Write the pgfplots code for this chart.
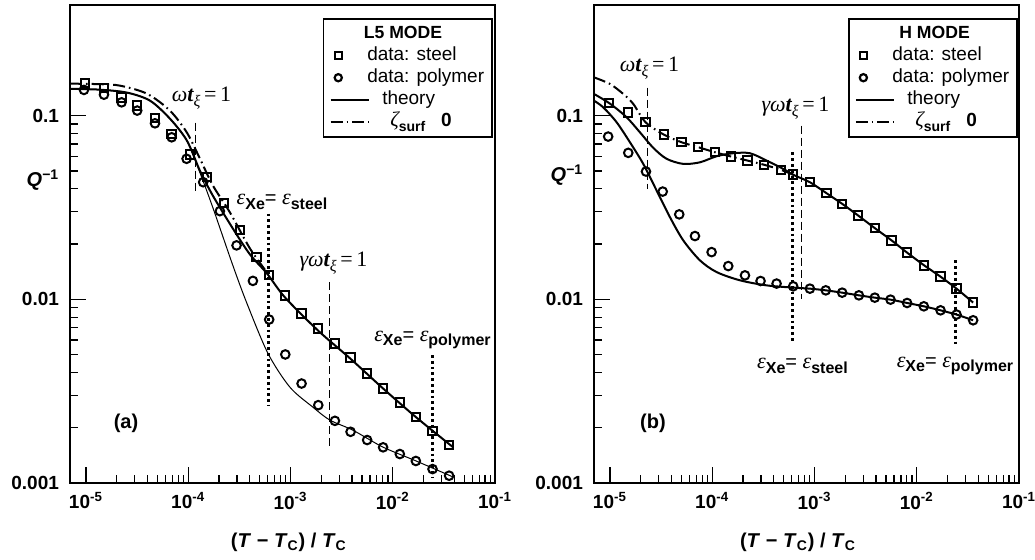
\documentclass[border=0pt]{standalone}
\usepackage{fontspec}
\setmainfont{Liberation Sans}
\newfontfamily\tnr{Liberation Serif}
\usepackage{pgfplots}
\pgfplotsset{compat=1.18}

\newcommand{\sub}[1]{\raisebox{-0.45ex}{\bfseries\fontsize{8}{9}\selectfont #1}}
\newcommand{\eps}{{\tnr\itshape\fontsize{11}{12}\selectfont ε}}
\newcommand{\epsXe}[1]{\eps\sub{Xe}= \eps\sub{#1}}
\newcommand{\wt}{{\tnr\fontsize{11}{12}\selectfont\itshape ω\textbf{t}\raisebox{-0.5ex}{\fontsize{8}{9}\selectfont ξ}\upshape\,=\,1}}
\newcommand{\gwt}{{\tnr\fontsize{11}{12}\selectfont\itshape γω\textbf{t}\raisebox{-0.5ex}{\fontsize{8}{9}\selectfont ξ}\upshape\,=\,1}}
\newcommand{\zsurf}{{\tnr\itshape\fontsize{10.5}{12}\selectfont ζ}\raisebox{-0.45ex}{\bfseries\fontsize{7}{8}\selectfont surf}\hspace{8pt}\textbf{0}}

\tikzset{
  sq/.style={only marks, mark=square, mark size=2.1pt, mark options={solid, line width=1pt}},
  ci/.style={only marks, mark=o, mark size=2.15pt, mark options={solid, line width=1pt}},
  dd/.style={line width=1pt, dash pattern=on 6pt off 2pt on 0.8pt off 2pt},
  vdash/.style={line width=0.55pt, dash pattern=on 4pt off 2pt},
  vdot/.style={line width=1.6pt, dash pattern=on 1.4pt off 1.5pt},
}

\begin{document}
\begin{tikzpicture}
\useasboundingbox (0,0) rectangle (517.5pt,279.5pt);

% ---------------- panel (a) ----------------
\begin{axis}[at={(35pt,38pt)}, anchor=south west,
    xmode=log, ymode=log,
    scale only axis, width=212.5pt, height=239pt,
    xmin=6.98e-6, xmax=0.1, ymin=0.001, ymax=0.4,
    axis line style={line width=1pt},
    tick pos=left, tick align=inside,
    major tick length=8pt, minor tick length=4pt,
    tick style={line width=0.6pt, black},
    xtick={1e-5,1e-4,1e-3,1e-2,1e-1},
    xticklabels={10\textsuperscript{-5},10\textsuperscript{-4},10\textsuperscript{-3},10\textsuperscript{-2},10\textsuperscript{-1}},
    ytick={0.001,0.01,0.1},
    yticklabels={0.001,0.01,0.1},
    ticklabel style={font=\fontsize{9.5}{11}\selectfont\bfseries},
    yticklabel style={xshift=-2pt},
    xticklabel style={yshift=-1pt},
    xlabel={(\textit{T} − \textit{T}\textsubscript{C}) / \textit{T}\textsubscript{C}},
    ylabel={\textit{Q}\textsuperscript{−1}},
    xlabel style={at={(axis description cs:0.515,0)}, anchor=center, yshift=-29.5pt, font=\fontsize{10}{12}\selectfont\bfseries},
    ylabel style={at={(axis description cs:-0.0635,0.634)}, anchor=center, rotate=-90, font=\fontsize{10}{12}\selectfont\bfseries},
    clip=false,
    legend cell align=left,
    legend style={at={(0.595,0.973)}, anchor=north west, draw=black, line width=0.8pt,
      inner xsep=3pt, inner ysep=2pt, column sep=0pt, row sep=0pt,
      font=\fontsize{9.5}{10}\selectfont,
      nodes={inner sep=1pt, text height=7pt, text depth=2pt}},
  ]
\addlegendimage{empty legend}
\addlegendentry{\hspace*{-4.2pt}\bfseries\fontsize{8.8}{10}\selectfont L5 MODE}
\addlegendimage{legend image code/.code={\path[draw=none,fill=none] (0pt,-3pt) rectangle (19.3pt,3pt);
     \draw[line width=1.1pt] (2.0pt,-1.8pt) rectangle (5.6pt,1.8pt);}}
\addlegendentry{\hspace*{-2.5pt}data: steel}
\addlegendimage{legend image code/.code={\path[draw=none,fill=none] (0pt,-3pt) rectangle (19.3pt,3pt);
     \draw[line width=1.1pt] (3.8pt,0pt) circle (1.8pt);}}
\addlegendentry{\hspace*{-2.5pt}data: polymer}
\addlegendimage{legend image code/.code={\draw[line width=1pt] (0pt,0pt) -- (19.3pt,0pt);}}
\addlegendentry{\hspace*{5pt}theory}
\addlegendimage{legend image code/.code={\draw[dd] (0pt,0pt) -- (19.3pt,0pt);}}
\addlegendentry{\hspace*{9pt}\zsurf}

% theory polymer (thin)
\addplot[forget plot, line width=0.5pt, smooth] coordinates {
(6.98e-6,0.140)(1.371e-5,0.1384)(2.52e-5,0.1334)(4.23e-5,0.1206)(6.62e-5,0.0963)(9.71e-5,0.0731)
(1.30e-4,0.0490)(1.74e-4,0.0316)(2.73e-4,0.01531)(3.75e-4,0.00951)(6.01e-4,0.00509)(9.86e-4,0.003327)
(1.656e-3,0.002588)(2.43e-3,0.0022)(4.07e-3,0.00194)(8.0e-3,0.00157)(0.01683,0.00132)(0.0387,0.00108)};
% theory steel
\addplot[forget plot, line width=1pt, smooth] coordinates {
(6.98e-6,0.140)(1.371e-5,0.1384)(2.52e-5,0.1334)(4.23e-5,0.1206)(6.62e-5,0.0963)(9.71e-5,0.0731)
(1.30e-4,0.0502)(1.74e-4,0.0367)(2.73e-4,0.0243)(4.01e-4,0.01757)(5.88e-4,0.01384)(8.81e-4,0.01026)
(1.85e-3,0.00678)(3.81e-3,0.00478)(8.0e-3,0.00328)(0.01683,0.002286)(0.0387,0.00157)};
% zeta -> 0
\addplot[forget plot, dd, smooth] coordinates {
(6.98e-6,0.1493)(1.371e-5,0.1483)(2.15e-5,0.1456)(3.94e-5,0.1317)(6.62e-5,0.1065)(9.71e-5,0.0808)
(1.30e-4,0.0584)(1.74e-4,0.0417)(2.56e-4,0.0297)(4.01e-4,0.01893)(5.88e-4,0.01403)};
% data steel
\addplot[forget plot, sq] coordinates {
(9.78e-6,0.150)(1.50e-5,0.1415)(2.23e-5,0.1257)(3.17e-5,0.1133)(4.73e-5,0.0972)(6.89e-5,0.0795)
(1.04e-4,0.0614)(1.53e-4,0.0463)(2.23e-4,0.0335)(3.20e-4,0.0239)(4.67e-4,0.0170)(6.19e-4,0.01358)
(8.81e-4,0.01051)(1.284e-3,0.00836)(1.87e-3,0.00693)(2.72e-3,0.00574)(3.87e-3,0.00482)(5.62e-3,0.00394)
(8.05e-3,0.00327)(0.01173,0.00275)(0.01683,0.00229)(0.0245,0.00192)(0.0356,0.00161)};
% data polymer
\addplot[forget plot, ci] coordinates {
(9.56e-6,0.138)(1.50e-5,0.130)(2.23e-5,0.1181)(3.17e-5,0.1065)(4.73e-5,0.0908)(6.89e-5,0.0762)
(9.64e-5,0.0582)(1.40e-4,0.0434)(2.04e-4,0.0302)(2.97e-4,0.01966)(4.29e-4,0.0126)(6.19e-4,0.00776)
(8.9e-4,0.00501)(1.284e-3,0.00348)(1.87e-3,0.002654)(2.72e-3,0.00218)(3.87e-3,0.00190)(5.62e-3,0.001714)
(8.05e-3,0.001564)(0.01173,0.001438)(0.01683,0.001318)(0.0245,0.001191)(0.0356,0.001096)};
% reference lines
\addplot[forget plot, vdash] coordinates {(1.19e-4,0.0916)(1.19e-4,0.0382)};
\addplot[forget plot, vdot] coordinates {(6.15e-4,0.0293)(6.15e-4,0.00265)};
\addplot[forget plot, vdash] coordinates {(2.43e-3,0.01236)(2.43e-3,0.00157)};
\addplot[forget plot, vdot] coordinates {(0.0247,0.00497)(0.0247,0.00106)};

\node at (rel axis cs:0.3094,0.8054) {\wt};
\node at (rel axis cs:0.4988,0.5879) {\epsXe{steel}};
\node at (rel axis cs:0.62,0.4603) {\gwt};
\node at (rel axis cs:0.8529,0.2992) {\epsXe{polymer}};
\node at (rel axis cs:0.1318,0.1255) {\textbf{(a)}};
\end{axis}

% ---------------- panel (b) ----------------
\begin{axis}[at={(297pt,38pt)}, anchor=south west,
    xmode=log, ymode=log,
    scale only axis, width=212.5pt, height=239pt,
    xmin=6.98e-6, xmax=0.1, ymin=0.001, ymax=0.4,
    axis line style={line width=1pt},
    tick pos=left, tick align=inside,
    major tick length=8pt, minor tick length=4pt,
    tick style={line width=0.6pt, black},
    xtick={1e-5,1e-4,1e-3,1e-2,1e-1},
    xticklabels={10\textsuperscript{-5},10\textsuperscript{-4},10\textsuperscript{-3},10\textsuperscript{-2},10\textsuperscript{-1}},
    ytick={0.001,0.01,0.1},
    yticklabels={0.001,0.01,0.1},
    ticklabel style={font=\fontsize{9.5}{11}\selectfont\bfseries},
    yticklabel style={xshift=-2pt},
    xticklabel style={yshift=-1pt},
    xlabel={(\textit{T} − \textit{T}\textsubscript{C}) / \textit{T}\textsubscript{C}},
    ylabel={\textit{Q}\textsuperscript{−1}},
    xlabel style={at={(axis description cs:0.48,0)}, anchor=center, yshift=-29.5pt, font=\fontsize{10}{12}\selectfont\bfseries},
    ylabel style={at={(axis description cs:-0.0635,0.644)}, anchor=center, rotate=-90, font=\fontsize{10}{12}\selectfont\bfseries},
    clip=false,
    legend cell align=left,
    legend style={at={(0.5976,0.973)}, anchor=north west, draw=black, line width=0.8pt,
      inner xsep=3pt, inner ysep=2pt, column sep=0pt, row sep=0pt,
      font=\fontsize{9.5}{10}\selectfont,
      nodes={inner sep=1pt, text height=7pt, text depth=2pt}},
  ]
\addlegendimage{empty legend}
\addlegendentry{\hspace*{1pt}\bfseries\fontsize{8.8}{10}\selectfont H MODE}
\addlegendimage{legend image code/.code={\path[draw=none,fill=none] (0pt,-3pt) rectangle (19.3pt,3pt);
     \draw[line width=1.1pt] (2.0pt,-1.8pt) rectangle (5.6pt,1.8pt);}}
\addlegendentry{\hspace*{-2.5pt}data: steel}
\addlegendimage{legend image code/.code={\path[draw=none,fill=none] (0pt,-3pt) rectangle (19.3pt,3pt);
     \draw[line width=1.1pt] (3.8pt,0pt) circle (1.8pt);}}
\addlegendentry{\hspace*{-2.5pt}data: polymer}
\addlegendimage{legend image code/.code={\draw[line width=1pt] (0pt,0pt) -- (19.3pt,0pt);}}
\addlegendentry{\hspace*{5pt}theory}
\addlegendimage{legend image code/.code={\draw[dd] (0pt,0pt) -- (19.3pt,0pt);}}
\addlegendentry{\hspace*{9pt}\zsurf}

% theory polymer
\addplot[forget plot, line width=1pt, smooth] coordinates {
(6.98e-6,0.1206)(8.6e-6,0.1109)(1.162e-5,0.0920)(1.568e-5,0.0716)(2.116e-5,0.0546)(2.86e-5,0.0391)
(3.86e-5,0.0280)(5.21e-5,0.02093)(7.59e-5,0.01629)(1.104e-4,0.01407)(1.866e-4,0.01269)(3.40e-4,0.01191)
(6.19e-4,0.01158)(9.02e-4,0.01143)(1.29e-3,0.01119)(1.866e-3,0.01087)(2.72e-3,0.01051)(3.89e-3,0.01021)
(5.54e-3,0.00996)(8.05e-3,0.00955)(0.01173,0.00916)(0.0171,0.00871)(0.0245,0.00826)(0.0356,0.00769)};
% theory steel
\addplot[forget plot, line width=1pt, smooth] coordinates {
(6.98e-6,0.1312)(1e-5,0.1162)(1.456e-5,0.0979)(1.964e-5,0.0811)(2.65e-5,0.0668)(3.58e-5,0.0582)
(5.21e-5,0.0546)(7.59e-5,0.0557)(1.104e-4,0.0601)(1.604e-4,0.0624)(2.34e-4,0.0624)(3.40e-4,0.0569)
(4.94e-4,0.0513)(6.43e-4,0.0472)(9.02e-4,0.0434)(1.312e-3,0.0378)(1.866e-3,0.0331)(2.67e-3,0.0286)
(3.89e-3,0.0244)(5.67e-3,0.02094)(8.05e-3,0.01795)(0.0118,0.01531)(0.0171,0.01328)(0.0245,0.01143)(0.0356,0.0096)};
% zeta -> 0
\addplot[forget plot, dd, smooth] coordinates {
(6.98e-6,0.1615)(1e-5,0.1487)(1.349e-5,0.1312)(1.69e-5,0.1158)(2.23e-5,0.0920)(3.37e-5,0.0788)
(5.02e-5,0.0716)(7.30e-5,0.0673)(1.062e-4,0.0632)(1.523e-4,0.0599)(2.22e-4,0.0569)(3.22e-4,0.0540)
(4.69e-4,0.0507)(6.43e-4,0.0472)};
% data steel
\addplot[forget plot, sq] coordinates {
(9.85e-6,0.1167)(1.51e-5,0.1042)(2.23e-5,0.0920)(3.37e-5,0.0788)(5.02e-5,0.0716)(7.30e-5,0.0673)
(1.062e-4,0.0632)(1.523e-4,0.0599)(2.22e-4,0.0569)(3.22e-4,0.0540)(4.69e-4,0.0507)(6.19e-4,0.0478)
(9.02e-4,0.0434)(1.312e-3,0.0378)(1.866e-3,0.0331)(2.67e-3,0.0286)(3.89e-3,0.0244)(5.67e-3,0.02094)
(8.05e-3,0.01795)(0.0118,0.01531)(0.0171,0.01328)(0.0245,0.01143)(0.0356,0.00959)};
% data polymer
\addplot[forget plot, ci] coordinates {
(9.6e-6,0.0769)(1.51e-5,0.0627)(2.25e-5,0.0496)(3.28e-5,0.0386)(4.76e-5,0.0290)(6.78e-5,0.0221)
(9.86e-5,0.01807)(1.435e-4,0.01517)(2.09e-4,0.0135)(2.97e-4,0.01258)(4.26e-4,0.01218)(6.19e-4,0.01177)
(9.02e-4,0.01143)(1.29e-3,0.01119)(1.866e-3,0.01087)(2.72e-3,0.01051)(3.89e-3,0.01021)(5.54e-3,0.00996)
(8.05e-3,0.00955)(0.01173,0.00916)(0.0171,0.00871)(0.0245,0.00826)(0.0356,0.00769)};
% reference lines
\addplot[forget plot, vdash] coordinates {(2.35e-5,0.142)(2.35e-5,0.0401)};
\addplot[forget plot, vdash] coordinates {(7.53e-4,0.0882)(7.53e-4,0.0101)};
\addplot[forget plot, vdot] coordinates {(6.15e-4,0.063)(6.15e-4,0.00583)};
\addplot[forget plot, vdot] coordinates {(0.0241,0.0163)(0.0241,0.00562)};

\node at (rel axis cs:0.1306,0.8682) {\wt};
\node at (rel axis cs:0.4741,0.7845) {\gwt};
\node at (rel axis cs:0.4906,0.2448) {\epsXe{steel}};
\node at (rel axis cs:0.8494,0.2448) {\epsXe{polymer}};
\node at (rel axis cs:0.1388,0.1255) {\textbf{(b)}};
\end{axis}
\end{tikzpicture}
\end{document}
